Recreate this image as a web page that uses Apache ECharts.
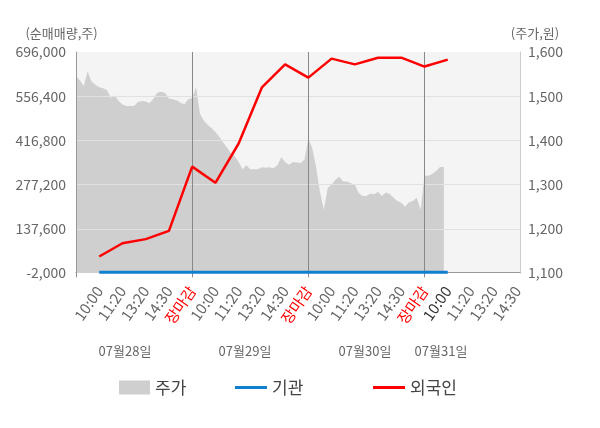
<!DOCTYPE html>
<html>
<head>
<meta charset="utf-8">
<script src="https://cdn.jsdelivr.net/npm/echarts@6/dist/echarts.min.js"></script>
<style>
    html, body {margin: 0; padding: 0; background: #fff;}
    #chart {width: 600px; height: 428px;}
</style>
</head>
<body>
<div id="chart"></div>
<script>
    // x축 라벨 (0번은 장시작, 라벨 없음)
    var timeLabels = ['',
        '10:00', '11:20', '13:20', '14:30', '장마감',
        '10:00', '11:20', '13:20', '14:30', '장마감',
        '10:00', '11:20', '13:20', '14:30', '장마감',
        '10:00', '11:20', '13:20', '14:30'];
    var dayBreaks  = [5, 10, 15];
    var dateLabels = ['07월28일', '07월29일', '07월30일', '07월31일'];

    // 외국인 / 기관 누적 순매매량 (라벨 1번부터)
    var foreign = [50000, 92000, 105000, 131000, 334000, 283000, 407000, 584000,
                   657000, 615000, 675000, 657000, 678000, 678000, 650000, 672000];
    var inst    = [0, 0, 0, 0, 0, 0, 0, 0, 0, 0, 0, 0, 0, 0, 0, 0];

    // 주가 (라벨 간격당 6틱)
    var stepTicks = 6;
    var price = [
        1545, 1536, 1523, 1556, 1533, 1526, 1520, 1518, 1514, 1496, 1502, 1489,
        1481, 1478, 1478, 1478, 1487, 1489, 1488, 1484, 1494, 1508, 1510, 1507,
        1495, 1493, 1491, 1485, 1482, 1493, 1496, 1520, 1461, 1445, 1435, 1428,
        1419, 1408, 1395, 1384, 1371, 1364, 1351, 1335, 1344, 1335, 1335, 1335,
        1339, 1338, 1339, 1337, 1344, 1362, 1351, 1345, 1351, 1350, 1349, 1356,
        1403, 1383, 1340, 1284, 1243, 1292, 1300, 1311, 1318, 1307, 1307, 1303,
        1300, 1281, 1274, 1274, 1280, 1278, 1284, 1274, 1282, 1279, 1270, 1263,
        1259, 1250, 1260, 1263, 1270, 1243, 1320, 1320, 1324, 1331, 1340, 1340
    ];

    var leftTicks  = {min: -2000, max: 696000, interval: 139600};
    var rightTicks = {min: 1100, max: 1600, interval: 100};

    var FONT = '"Noto Sans CJK KR", "Noto Sans", sans-serif';

    var labelIdx = [];
    for (var i = 1; i < timeLabels.length; i++) labelIdx.push(i);

    var myChart = echarts.init(document.getElementById('chart'));
    var option  = {
        animation: false,
        textStyle: {fontFamily: FONT},
        grid     : {
            left: 76, right: 80, top: 52, bottom: 155,
            show: true, backgroundColor: '#f4f4f4', borderWidth: 0
        },
        legend   : [
            {data: ['주가'], left: 114, top: 374, icon: 'rect', itemWidth: 31, itemHeight: 14, itemGap: 8,
                textStyle: {fontSize: 17, color: '#444', fontFamily: FONT}},
            {data: ['기관'], left: 230, top: 374, icon: 'rect', itemWidth: 32, itemHeight: 3, itemGap: 8,
                textStyle: {fontSize: 17, color: '#444', fontFamily: FONT}},
            {data: ['외국인'], left: 368, top: 374, icon: 'rect', itemWidth: 32, itemHeight: 3, itemGap: 8,
                textStyle: {fontSize: 17, color: '#444', fontFamily: FONT}}
        ],
        xAxis    : {
            type     : 'value',
            min      : 0,
            max      : 19.11,
            interval : 1,
            axisLine : {lineStyle: {color: '#999'}},
            axisTick : {show: true, customValues: [0].concat(dayBreaks), length: 5, lineStyle: {color: '#888'}},
            splitLine: {show: false},
            axisLabel: {
                customValues: labelIdx,
                rotate      : 55,
                margin      : 15,
                fontSize    : 15,
                color       : '#666',
                formatter   : function (v) {
                    var t = timeLabels[Math.round(v)] || '';
                    if (t === '장마감') return '{r|' + t + '}';
                    if (Math.round(v) === 16) return '{d|' + t + '}';
                    return t;
                },
                rich        : {
                    r: {color: '#ff0000', fontSize: 15, fontFamily: FONT},
                    d: {color: '#333', fontSize: 15, fontFamily: FONT}
                }
            }
        },
        yAxis    : [
            {
                type         : 'value',
                min          : leftTicks.min,
                max          : leftTicks.max,
                interval     : leftTicks.interval,
                z            : 10,
                name         : '(순매매량,주)',
                nameLocation : 'end',
                nameGap      : 12,
                nameTextStyle: {color: '#666', fontSize: 13, align: 'center', padding: [0, 29, 0, 0]},
                axisLine     : {show: true, lineStyle: {color: '#999'}},
                axisTick     : {show: false},
                axisLabel    : {
                    color: '#666', fontSize: 14, margin: 10,
                    formatter: function (v) { return v.toLocaleString('en-US'); }
                },
                splitLine    : {showMinLine: false, showMaxLine: false, lineStyle: {color: '#e1e1e1', width: 1}}
            },
            {
                type         : 'value',
                min          : rightTicks.min,
                max          : rightTicks.max,
                interval     : rightTicks.interval,
                name         : '(주가,원)',
                nameLocation : 'end',
                nameGap      : 12,
                nameTextStyle: {color: '#666', fontSize: 13, align: 'center', padding: [0, 0, 0, 30]},
                axisLine     : {show: true, lineStyle: {color: '#ccc'}},
                axisTick     : {show: false},
                axisLabel    : {
                    color: '#666', fontSize: 14, margin: 8,
                    formatter: function (v) { return v.toLocaleString('en-US'); }
                },
                splitLine    : {show: false}
            }
        ],
        graphic  : dateLabels.map(function (d, i) {
            var xs = [125, 245, 365, 441];
            return {
                type : 'text',
                x    : xs[i],
                y    : 351,
                style: {text: d, fill: '#666', font: '13px ' + FONT, textAlign: 'center', textVerticalAlign: 'middle'}
            };
        }),
        series   : [
            {
                name      : '주가',
                type      : 'line',
                yAxisIndex: 1,
                z         : 1,
                symbol    : 'none',
                itemStyle : {color: '#cfcfcf'},
                lineStyle : {width: 0, color: '#cfcfcf'},
                areaStyle : {color: '#cfcfcf', opacity: 1},
                data      : price.map(function (v, j) { return [j / stepTicks, v]; })
            },
            {
                name     : '기관',
                type     : 'line',
                z        : 12,
                symbol   : 'none',
                itemStyle: {color: '#0f7fd0'},
                lineStyle: {width: 3, color: '#0f7fd0'},
                data     : inst.map(function (v, i) { return [i + 1, v]; }),
                markLine : {
                    silent   : true,
                    symbol   : 'none',
                    z        : 11,
                    label    : {show: false},
                    lineStyle: {color: '#888', width: 1, type: 'solid'},
                    data     : dayBreaks.map(function (b) { return {xAxis: b}; })
                }
            },
            {
                name     : '외국인',
                type     : 'line',
                z        : 13,
                symbol   : 'none',
                itemStyle: {color: '#ff0000'},
                lineStyle: {width: 2.5, color: '#ff0000'},
                data     : foreign.map(function (v, i) { return [i + 1, v]; })
            }
        ]
    };

    myChart.setOption(option);
</script>
</body>
</html>
